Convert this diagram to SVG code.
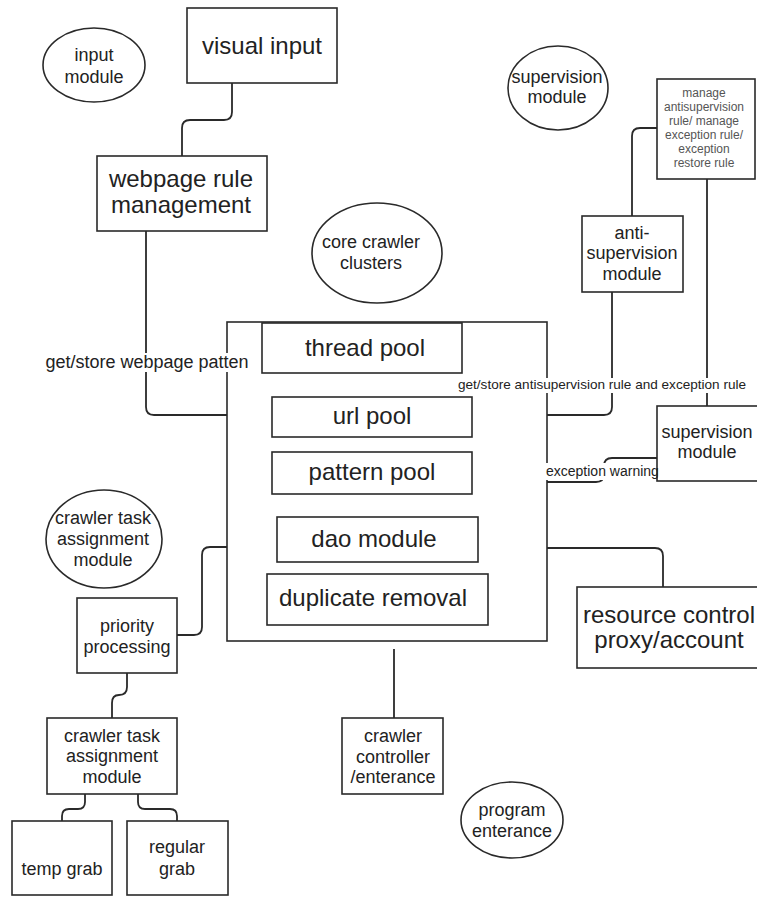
<svg xmlns="http://www.w3.org/2000/svg" width="757" height="897" viewBox="0 0 757 897">
<style>
  .bx { fill: #ffffff; stroke: #2a2a2a; stroke-width: 1.6; }
  .el { fill: #ffffff; stroke: #2a2a2a; stroke-width: 1.6; }
  .ln { fill: none; stroke: #2a2a2a; stroke-width: 1.8; }
  text { font-family: "Liberation Sans", Arial, Helvetica, sans-serif; fill: #222222; text-anchor: middle; }
  .t24 { font-size: 24px; }
  .t18 { font-size: 18px; }
  .t14 { font-size: 14px; }
  .t13 { font-size: 13.5px; }
  .t12 { font-size: 12px; fill: #555555; }
  .lbl { fill: #ffffff; stroke: none; }
</style>
<rect x="0" y="0" width="757" height="897" fill="#ffffff"/>

<g id="connectors">
  <path class="ln" d="M232,83 V112 Q232,120 224,120 H190 Q182,120 182,128 V156"/>
  <path class="ln" d="M146,231 V407 Q146,415 154,415 H227"/>
  <path class="ln" d="M657,128 H640 Q632,128 632,136 V216"/>
  <path class="ln" d="M612,292 V407 Q612,415 604,415 H547"/>
  <path class="ln" d="M707,179 V406"/>
  <path class="ln" d="M657,458 H612 Q604,458 604,466 V474 Q604,482 596,482 H547"/>
  <path class="ln" d="M547,548 H655 Q663,548 663,556 V587"/>
  <path class="ln" d="M227,547 H210 Q202,547 202,555 V627 Q202,635 194,635 H177"/>
  <path class="ln" d="M127,673 V687 Q127,695 119,695 Q112,695 112,703 V718"/>
  <path class="ln" d="M85,794 V802 Q85,809 78,809 H69 Q62,809 62,816 V821"/>
  <path class="ln" d="M138,794 V802 Q138,809 145,809 H170 Q177,809 177,816 V821"/>
  <path class="ln" d="M394,649 V718"/>
</g>

<g id="core-crawler-box">
  <rect class="bx" x="227" y="322" width="320" height="319" style="fill:none"/>
</g>

<g id="input-module">
  <ellipse class="el" cx="94" cy="65" rx="51" ry="37"/>
  <text class="t18" x="94" y="61">input</text>
  <text class="t18" x="94" y="83">module</text>
</g>

<g id="visual-input">
  <rect class="bx" x="187" y="8" width="150" height="75"/>
  <text class="t24" x="262" y="54">visual input</text>
</g>

<g id="webpage-rule-management">
  <rect class="bx" x="97" y="156" width="170" height="75"/>
  <text class="t24" x="181" y="187">webpage rule</text>
  <text class="t24" x="181" y="213">management</text>
</g>

<g id="core-crawler-clusters">
  <ellipse class="el" cx="377" cy="253" rx="65" ry="50"/>
  <text class="t18" x="371" y="248">core crawler</text>
  <text class="t18" x="371" y="269">clusters</text>
</g>

<g id="supervision-module-label">
  <ellipse class="el" cx="558" cy="88" rx="50" ry="42"/>
  <text class="t18" x="557" y="83">supervision</text>
  <text class="t18" x="557" y="103">module</text>
</g>

<g id="manage-rules">
  <rect class="bx" x="657" y="79" width="98" height="100"/>
  <text class="t12" x="704" y="97">manage</text>
  <text class="t12" x="704" y="111">antisupervision</text>
  <text class="t12" x="704" y="125">rule/ manage</text>
  <text class="t12" x="704" y="139">exception rule/</text>
  <text class="t12" x="704" y="153">exception</text>
  <text class="t12" x="704" y="167">restore rule</text>
</g>

<g id="anti-supervision-module">
  <rect class="bx" x="582" y="216" width="101" height="76"/>
  <text class="t18" x="632" y="239">anti-</text>
  <text class="t18" x="632" y="259">supervision</text>
  <text class="t18" x="632" y="280">module</text>
</g>

<g id="thread-pool">
  <rect class="bx" x="262" y="323" width="200" height="50"/>
  <text class="t24" x="365" y="356">thread pool</text>
</g>

<g id="url-pool">
  <rect class="bx" x="272" y="397" width="200" height="40"/>
  <text class="t24" x="372" y="424">url pool</text>
</g>

<g id="pattern-pool">
  <rect class="bx" x="272" y="452" width="200" height="42"/>
  <text class="t24" x="372" y="480">pattern pool</text>
</g>

<g id="dao-module">
  <rect class="bx" x="277" y="517" width="201" height="45"/>
  <text class="t24" x="374" y="547">dao module</text>
</g>

<g id="duplicate-removal">
  <rect class="bx" x="267" y="574" width="221" height="51"/>
  <text class="t24" x="373" y="606">duplicate removal</text>
</g>

<g id="supervision-module">
  <rect class="bx" x="657" y="406" width="105" height="75"/>
  <text class="t18" x="707" y="438">supervision</text>
  <text class="t18" x="707" y="458">module</text>
</g>

<g id="resource-control">
  <rect class="bx" x="577" y="587" width="185" height="81"/>
  <text class="t24" x="669" y="623">resource control</text>
  <text class="t24" x="669" y="648">proxy/account</text>
</g>

<g id="crawler-task-assignment-label">
  <ellipse class="el" cx="104" cy="539" rx="58" ry="49"/>
  <text class="t18" x="103" y="524">crawler task</text>
  <text class="t18" x="103" y="545">assignment</text>
  <text class="t18" x="103" y="566">module</text>
</g>

<g id="priority-processing">
  <rect class="bx" x="77" y="598" width="100" height="75"/>
  <text class="t18" x="127" y="632">priority</text>
  <text class="t18" x="127" y="653">processing</text>
</g>

<g id="crawler-task-assignment-module">
  <rect class="bx" x="47" y="718" width="130" height="76"/>
  <text class="t18" x="112" y="742">crawler task</text>
  <text class="t18" x="112" y="762">assignment</text>
  <text class="t18" x="112" y="783">module</text>
</g>

<g id="temp-grab">
  <rect class="bx" x="12" y="821" width="100" height="74"/>
  <text class="t18" x="62" y="875">temp grab</text>
</g>

<g id="regular-grab">
  <rect class="bx" x="127" y="821" width="101" height="74"/>
  <text class="t18" x="177" y="853">regular</text>
  <text class="t18" x="177" y="875">grab</text>
</g>

<g id="crawler-controller">
  <rect class="bx" x="342" y="718" width="101" height="76"/>
  <text class="t18" x="393" y="742">crawler</text>
  <text class="t18" x="393" y="763">controller</text>
  <text class="t18" x="393" y="783">/enterance</text>
</g>

<g id="program-enterance">
  <ellipse class="el" cx="512" cy="820" rx="51" ry="38"/>
  <text class="t18" x="512" y="816">program</text>
  <text class="t18" x="512" y="837">enterance</text>
</g>

<g id="connector-labels">
  <rect class="lbl" x="44" y="353" width="206" height="19"/>
  <text class="t18" x="147" y="368">get/store webpage patten</text>
  <rect class="lbl" x="457" y="378" width="296" height="15"/>
  <text class="t13" x="458" y="389" textLength="288" lengthAdjust="spacingAndGlyphs" style="text-anchor:start">get/store antisupervision rule and exception rule</text>
  <rect class="lbl" x="545" y="463" width="111" height="17"/>
  <text class="t14" x="546" y="476" style="text-anchor:start">exception warning</text>
</g>
</svg>
